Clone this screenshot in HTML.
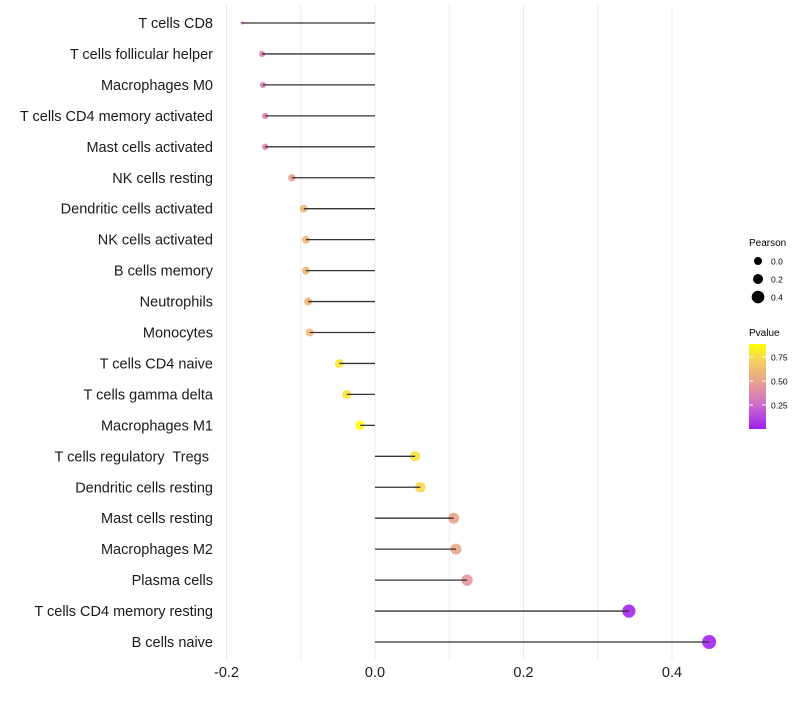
<!DOCTYPE html>
<html><head><meta charset="utf-8"><style>
body{margin:0;background:#fff;font-family:"Liberation Sans",sans-serif}
svg text{font-family:"Liberation Sans",sans-serif;white-space:pre}
</style></head><body>
<svg id="chart" width="800" height="700" xmlns="http://www.w3.org/2000/svg">
<g id="grid"></g><g id="pts"></g><g id="segs"></g><g id="ylab"></g><g id="xlab"></g>
<g id="legend">
<text x="749" y="246" font-size="10">Pearson</text>
<g id="sizeleg"></g>
<text x="749" y="336" font-size="10">Pvalue</text>
<defs><linearGradient id="pg" x1="0" y1="1" x2="0" y2="0">
<stop offset="0" stop-color="#a020f0"/><stop offset="0.3" stop-color="#d070c8"/><stop offset="0.55" stop-color="#e8a090"/><stop offset="0.8" stop-color="#f5cf60"/><stop offset="1" stop-color="#ffff00"/></linearGradient></defs>
<rect x="749" y="344" width="17" height="85" fill="url(#pg)"/>
<g id="cbticks"></g>
</g>
</svg>
<script>
const categories=["T cells CD8","T cells follicular helper","Macrophages M0","T cells CD4 memory activated","Mast cells activated","NK cells resting","Dendritic cells activated","NK cells activated","B cells memory","Neutrophils","Monocytes","T cells CD4 naive","T cells gamma delta","Macrophages M1","T cells regulatory  Tregs ","Dendritic cells resting","Mast cells resting","Macrophages M2","Plasma cells","T cells CD4 memory resting","B cells naive"];
const pearson=[-0.179,-0.152,-0.151,-0.148,-0.148,-0.112,-0.096,-0.093,-0.093,-0.09,-0.088,-0.048,-0.038,-0.02,0.054,0.061,0.106,0.109,0.124,0.342,0.45];
const pvalue=[0.28,0.35,0.36,0.37,0.37,0.5,0.6,0.6,0.6,0.6,0.62,0.8,0.8,0.88,0.78,0.75,0.52,0.52,0.45,0.03,0.02];
const xTicks=[-0.2,0,0.2,0.4];
const xTickLabels=["-0.2","0.0","0.2","0.4"];
const gridVals=[-0.2,-0.1,0,0.1,0.2,0.3,0.4];
const sizeLegVals=[0.0,0.2,0.4];
const sizeLegLabels=["0.0","0.2","0.4"];
const cbVals=[0.25,0.5,0.75];
const cbLabels=["0.25","0.50","0.75"];

const NS="http://www.w3.org/2000/svg";
const x=v=>375+v*742.5;
const y=i=>23+i*30.95;
const pmin=Math.min(...pearson),pmax=Math.max(...pearson);
const r=v=>1.5+5.5*Math.pow(Math.max(0,(v-pmin)/(pmax-pmin)),0.4);
const stops=[[0,[160,32,240]],[0.3,[208,112,200]],[0.55,[232,160,144]],[0.8,[245,207,96]],[1,[255,255,0]]];
const cmin=0.01,cmax=0.885;
function col(p){let t=Math.min(1,Math.max(0,(p-cmin)/(cmax-cmin)));for(let k=1;k<stops.length;k++){if(t<=stops[k][0]){const a=stops[k-1],b=stops[k];const f=(t-a[0])/(b[0]-a[0]);const c=a[1].map((q,j)=>Math.round(q+(b[1][j]-q)*f));return `rgb(${c})`;}}return "rgb(255,255,0)";}
const cy=p=>428-(p-cmin)/(cmax-cmin)*84;
function mk(tag,at,parent){const e=document.createElementNS(NS,tag);for(const k in at)e.setAttribute(k,at[k]);document.getElementById(parent).appendChild(e);return e;}
gridVals.forEach(v=>{const e=mk("line",{x1:x(v),x2:x(v),y1:5,y2:660,stroke:"#ebebeb","stroke-width":1},"grid");

});
categories.forEach((c,i)=>{
const p=mk("circle",{cx:x(pearson[i]),cy:y(i),r:r(pearson[i]),fill:col(pvalue[i]),"fill-opacity":0.9},"pts");


const s=mk("line",{x1:x(0),x2:x(pearson[i]),y1:y(i),y2:y(i),stroke:"#333","stroke-width":1.3},"segs");


const t=mk("text",{x:213,y:y(i)+5,"text-anchor":"end","font-size":14.5,fill:"#1a1a1a","xml:space":"preserve"},"ylab");t.textContent=c;


});
xTicks.forEach((v,i)=>{const t=mk("text",{x:x(v),y:677,"text-anchor":"middle","font-size":14.5,fill:"#1a1a1a"},"xlab");t.textContent=xTickLabels[i];

});
const legR=[4,5,6.3];
sizeLegVals.forEach((v,i)=>{const yy=261+i*18;const c=mk("circle",{cx:758,cy:yy,r:legR[i],fill:"#000"},"sizeleg");


const t=mk("text",{x:771,y:yy+3.5,"font-size":8.5},"sizeleg");t.textContent=sizeLegLabels[i];

});
cbVals.forEach((v,i)=>{const yy=cy(v);
const l=mk("line",{x1:749,x2:753,y1:yy,y2:yy,stroke:"#fff"},"cbticks");


const l2=mk("line",{x1:762,x2:766,y1:yy,y2:yy,stroke:"#fff"},"cbticks");


const t=mk("text",{x:771,y:yy+3.5,"font-size":8.5},"cbticks");t.textContent=cbLabels[i];

});
</script>
</body></html>
